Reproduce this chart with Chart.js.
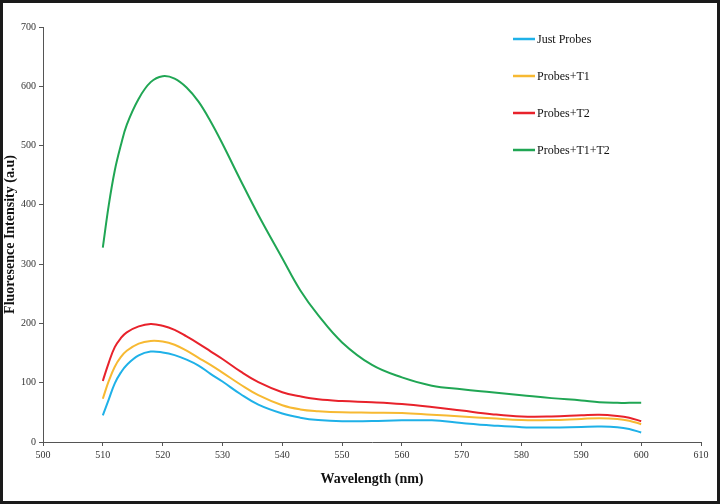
<!DOCTYPE html>
<html>
<head>
<meta charset="utf-8">
<script src="https://cdn.jsdelivr.net/npm/chart.js@4.4.1/dist/chart.umd.min.js"></script>
<style>
    body { margin: 0; background: #fff; }
    #marco { width: 720px; height: 504px; box-sizing: border-box; border: 3px solid #1a1a1a; background: #fff; }
    #grafico { display: block; }
</style>
</head>
<body>
<div id="marco"><canvas id="grafico" width="714" height="498"></canvas></div>
<script>
// longitud de onda (nm)
const longitudes = [510, 511, 512, 513, 514, 516, 518, 520, 522, 524, 526, 528, 530, 533, 536, 540, 543, 546, 550, 555, 560, 565, 570, 575, 580, 585, 590, 593, 596, 598, 600];

const soloSondas = [45, 72, 99, 117, 130, 146, 152.5, 151, 146.5, 139, 129, 115, 102, 81, 63, 48, 41, 37, 35, 35.5, 36.5, 36.5, 32, 28, 25, 24.5, 25.5, 26, 25, 22, 16];
const sondasT1 = [73, 103, 127, 143, 154, 166, 170.5, 169.5, 164, 154, 142, 130, 117, 97, 79, 62, 55, 52, 50, 49.5, 49, 46, 43, 40, 37, 37, 39, 40, 39, 36, 30];
const sondasT2 = [103, 134, 160, 175, 185, 195, 199, 196, 189, 178, 166, 153, 140, 119, 101, 84, 77, 72, 69, 67, 64, 59, 53, 47, 43, 43, 45, 46, 44, 41, 35];
const sondasT1T2 = [328, 400, 458, 500, 535, 579, 607, 617, 613, 598, 574, 541, 503, 442, 383, 310, 256, 214, 168, 130, 109, 95, 89, 84, 79, 74, 70, 67, 66, 66, 66];

const etiquetas = ['Just Probes', 'Probes+T1', 'Probes+T2', 'Probes+T1+T2'];
const colores = ['#1fb1e8', '#f7b932', '#e8222b', '#20a654'];

const fuente = '"Liberation Serif", "Times New Roman", serif';

function serie(i, valores) {
    return {
        label: etiquetas[i],
        data: longitudes.map((x, k) => ({ x, y: valores[k] })),
        borderColor: colores[i],
        backgroundColor: colores[i],
        borderWidth: 2,
        pointRadius: 0,
        fill: false,
        tension: 0.4
    };
}

// leyenda dibujada dentro del area del grafico
const leyendaInterna = {
    id: 'leyendaInterna',
    afterDraw(chart) {
        const ctx = chart.ctx;
        ctx.save();
        ctx.font = '12px ' + fuente;
        ctx.textBaseline = 'middle';
        chart.data.datasets.forEach((ds, i) => {
            const y = 36 + i * 37;
            ctx.strokeStyle = ds.borderColor;
            ctx.lineWidth = 2.5;
            ctx.beginPath();
            ctx.moveTo(510, y);
            ctx.lineTo(532, y);
            ctx.stroke();
            ctx.fillStyle = '#111';
            ctx.fillText(ds.label, 534, y + 1);
        });
        ctx.restore();
    }
};

const ctx = document.getElementById('grafico').getContext('2d');
new Chart(ctx, {
    type: 'line',
    data: {
        datasets: [
            serie(0, soloSondas),
            serie(1, sondasT1),
            serie(2, sondasT2),
            serie(3, sondasT1T2)
        ]
    },
    options: {
        responsive: false,
        animation: false,
        layout: { padding: { top: 24, right: 16, left: 0, bottom: 0 } },
        plugins: {
            legend: { display: false },
            tooltip: { enabled: false }
        },
        scales: {
            x: {
                type: 'linear',
                min: 500,
                max: 610,
                ticks: { stepSize: 10, color: '#333', padding: 3, font: { family: fuente, size: 10 } },
                grid: { display: true, drawOnChartArea: false, drawTicks: true, tickLength: 4, color: '#555' },
                border: { display: true, color: '#555', width: 1 },
                title: {
                    display: true,
                    text: 'Wavelength (nm)',
                    color: '#111',
                    font: { family: fuente, size: 14, weight: 'bold' },
                    padding: { top: 0, bottom: 13 }
                },
                afterFit(scale) { scale.height = 59; }
            },
            y: {
                min: 0,
                max: 700,
                ticks: { stepSize: 100, color: '#333', padding: 3, font: { family: fuente, size: 10 } },
                grid: { display: true, drawOnChartArea: false, drawTicks: true, tickLength: 4, color: '#555' },
                border: { display: true, color: '#555', width: 1 },
                title: {
                    display: true,
                    text: 'Fluoresence Intensity (a.u)',
                    color: '#111',
                    font: { family: fuente, size: 14, weight: 'bold', lineHeight: 1 },
                    padding: { top: 0, bottom: 0 }
                },
                afterFit(scale) { scale.width = 40; }
            }
        }
    },
    plugins: [leyendaInterna]
});
</script>
</body>
</html>
